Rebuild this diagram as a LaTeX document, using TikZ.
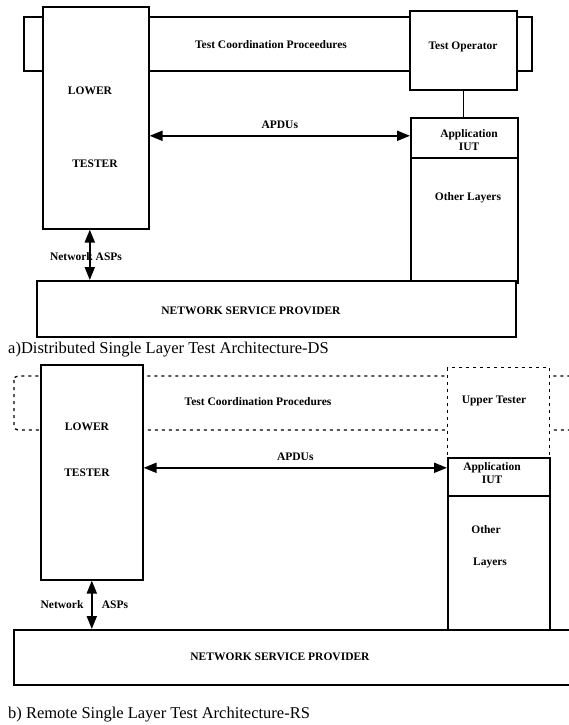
\documentclass[tikz,border=0pt]{standalone}
\usepackage{fontspec}
\setmainfont{Liberation Serif}
\usetikzlibrary{arrows.meta}

\begin{document}
\begin{tikzpicture}[x=1pt,y=-1pt,
    every node/.style={font=\bfseries\fontsize{11.5}{13}\selectfont, inner sep=0pt},
    box/.style={draw, line width=1.6pt, fill=white, anchor=north west},
    dbox/.style={box, dash pattern=on 3pt off 4pt},
    dbl/.style={line width=2pt, {Triangle[length=13pt,width=10pt]}-{Triangle[length=13pt,width=10pt]}},
    captxt/.style={font=\fontsize{16.5}{19}\selectfont, anchor=west}]
  \useasboundingbox (0,0) rectangle (569,725);
  \clip (0,0) rectangle (569,725);

  % a) distributed architecture
  \draw[line width=1.6pt] (24,17) rectangle (532,71);
  \node[box, minimum width=106pt, minimum height=222pt] (lowA) at (42,6) {};
  \node[box, minimum width=107pt, minimum height=79pt] (opA) at (409,10) {};
  \node[box, minimum width=107pt, minimum height=40pt] (appA) at (410,117) {};
  \node[box, minimum width=107pt, minimum height=125pt] (othA) at (410,157) {};
  \node[box, minimum width=479pt, minimum height=56pt] (nspA) at (36,280) {};
  \draw[line width=1.6pt] (opA.south) -- (opA.south |- appA.north);

  % Labels
  \node (tcpA) at (271,45) {Test Coordination Proceedures};
  \node (opLblA) at (463,47) {Test Operator};
  \node (lowLblA) at (90,91) {LOWER};
  \node (tstLblA) at (95,164) {TESTER};
  \node[align=center] (appLblA) at (469,140) {Application\\IUT};
  \node (othLblA) at (468,198) {Other Layers};
  \node (nspLblA) at (251,311) {NETWORK SERVICE PROVIDER};
  \node (netLblA) at (86,257) {Network ASPs};

  % Arrows
  \coordinate (apduA) at ([yshift=2pt]appA.west);
  \draw[dbl] (lowA.east |- apduA) -- (apduA) node[midway, above=6pt] (apduLblA) {APDUs};
  \coordinate (netA) at ([xshift=-6pt]lowA.south);
  \draw[dbl] (netA) -- (netA |- nspA.north);

  \node[captxt] (capA) at (8,350) {a)Distributed Single Layer Test Architecture-DS};

  % b) remote architecture
  \draw[line width=1.3pt, dash pattern=on 3pt off 4pt, rounded corners=4pt] (14,376) rectangle (600,430);
  \node[box, minimum width=102pt, minimum height=215pt] (lowB) at (40,364) {};
  \node[dbox, line width=1.3pt, minimum width=102pt, minimum height=90pt] (upB) at (447,367) {};
  \node[box, minimum width=102pt, minimum height=38pt] (appB) at (447,457) {};
  \node[box, minimum width=102pt, minimum height=138pt] (othB) at (447,495) {};
  \node[box, minimum width=600pt, minimum height=55pt] (nspB) at (13,629) {};

  % Labels
  \node (tcpB) at (258,402) {Test Coordination Procedures};
  \node (upLblB) at (494,401) {Upper Tester};
  \node (lowLblB) at (87,427) {LOWER};
  \node (tstLblB) at (87,473) {TESTER};
  \node[align=center] (appLblB) at (492,473) {Application\\IUT};
  \node (othLblB) at (486,530) {Other};
  \node (layLblB) at (490,563) {Layers};
  \node (nspLblB) at (280,657) {NETWORK SERVICE PROVIDER};
  \node (netLblB) at (62,605) {Network};
  \node (aspLblB) at (115,605) {ASPs};

  % Arrows
  \coordinate (apduB) at ([yshift=9pt]appB.west);
  \draw[dbl] (lowB.east |- apduB) -- (apduB) node[midway, above=6pt] (apduLblB) {APDUs};
  \draw[dbl] (lowB.south) -- (lowB.south |- nspB.north);

  \node[captxt] (capB) at (8,715) {b) Remote Single Layer Test Architecture-RS};
\end{tikzpicture}
\end{document}
